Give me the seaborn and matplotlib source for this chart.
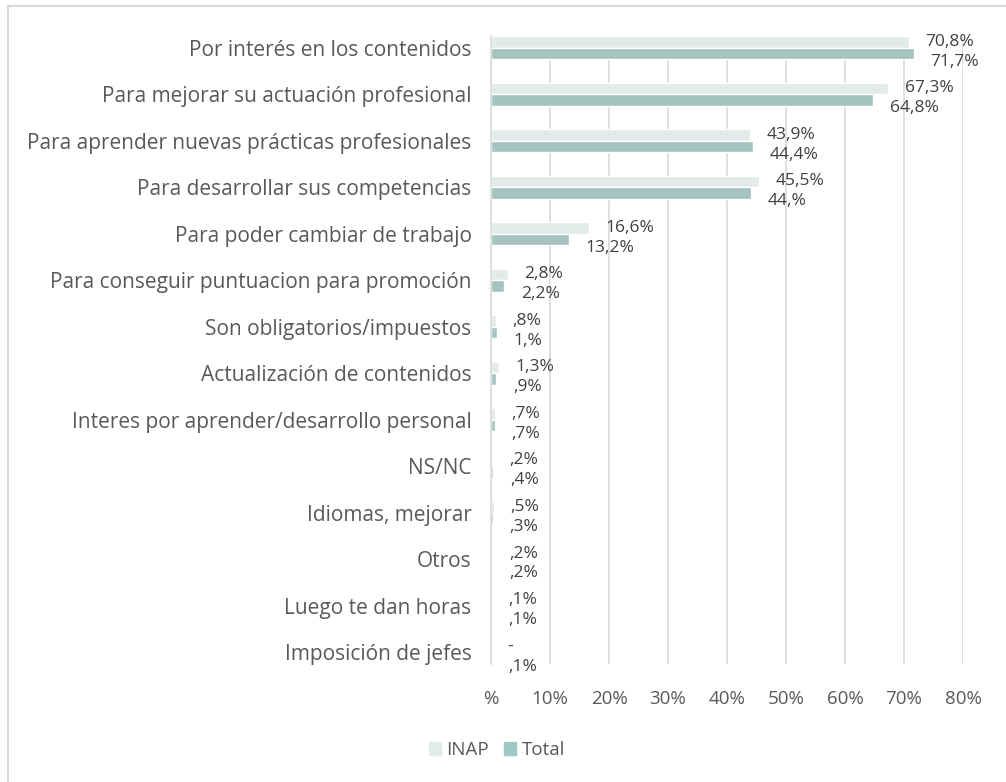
import pandas as pd
import matplotlib.pyplot as plt
import seaborn as sns
from matplotlib.patches import Rectangle

# Chart values (percent)
categories = [
    "Por interés en los contenidos",
    "Para mejorar su actuación profesional",
    "Para aprender nuevas prácticas profesionales",
    "Para desarrollar sus competencias",
    "Para poder cambiar de trabajo",
    "Para conseguir puntuacion para promoción",
    "Son obligatorios/impuestos",
    "Actualización de contenidos",
    "Interes por aprender/desarrollo personal",
    "NS/NC",
    "Idiomas, mejorar",
    "Otros",
    "Luego te dan horas",
    "Imposición de jefes",
]
inap = [70.8, 67.3, 43.9, 45.5, 16.6, 2.8, 0.8, 1.3, 0.7, 0.2, 0.5, 0.2, 0.1, 0.0]
total = [71.7, 64.8, 44.4, 44.0, 13.2, 2.2, 1.0, 0.9, 0.7, 0.4, 0.3, 0.2, 0.1, 0.1]
series = ["INAP", "Total"]
xticks = [0, 10, 20, 30, 40, 50, 60, 70, 80]

colors = {"INAP": "#E0ECEA", "Total": "#A0C8C3"}
text_color = "#595959"
label_color = "#404040"
bar_w = 0.5


def excel_pct(v, dash_zero=False):
    # mimics the excel format of the source: 44.0 -> "44,%", 0.8 -> ",8%"
    if v == 0:
        return "-" if dash_zero else "%"
    s = f"{v:.1f}".replace(".", ",")
    if s.startswith("0"):
        s = s[1:]
    if s.endswith(",0"):
        s = s[:-1]
    return s + "%"


def tick_pct(v):
    return "%" if v == 0 else f"{v:.0f}%"


df = pd.DataFrame({
    "Motivo": categories * 2,
    "Serie": ["INAP"] * len(categories) + ["Total"] * len(categories),
    "Valor": inap + total,
})

sns.set_style("white")
plt.rcParams['font.family'] = ['Open Sans', 'DejaVu Sans']

fig = plt.figure(figsize=(10.06, 7.82), dpi=100)
ax = fig.add_axes([491 / 1006, 1 - 664 / 782, (963 - 491) / 1006, (664 - 36) / 782])

sns.barplot(data=df, y="Motivo", x="Valor", hue="Serie", orient="h",
            palette=colors, width=bar_w, ax=ax, legend=False, zorder=3)

# bars run right from the top to the bottom of the plot area, as in excel
ax.set_ylim(len(categories) - 1 + bar_w / 2, -bar_w / 2)
ax.set_xlim(0, 80)
ax.set_xticks(xticks)
ax.set_xticklabels([tick_pct(t) for t in xticks], fontsize=13.5, color=text_color)
ax.tick_params(axis="y", labelsize=15, labelcolor=text_color, length=0, pad=14)
ax.tick_params(axis="x", length=0, pad=19)
ax.set_xlabel("")
ax.set_ylabel("")
ax.grid(axis="x", color="#D9D9D9", linewidth=1.2, zorder=0)
for side in ["top", "right", "bottom"]:
    ax.spines[side].set_visible(False)
ax.spines["left"].set_color("#D9D9D9")
ax.spines["left"].set_linewidth(1.2)
ax.spines["left"].set_zorder(4)

# data labels
for cont, vals, name in zip(ax.containers, [inap, total], series):
    for bar, v in zip(cont, vals):
        y = bar.get_y() + bar.get_height() / 2
        dy = 0 if name == "INAP" else -6
        ax.annotate(excel_pct(v, dash_zero=True), (bar.get_width(), y),
                    xytext=(12, dy), textcoords="offset points", annotation_clip=False,
                    ha="left", va="center", fontsize=12.5, color=label_color)

# legend at bottom
handles = [Rectangle((0, 0), 1, 1, color=colors[s]) for s in series]
fig.legend(handles, series, loc="center", bbox_to_anchor=(497 / 1006, 1 - 750 / 782),
           ncol=2, frameon=False, fontsize=13.5, labelcolor=text_color,
           handlelength=0.65, handleheight=0.65, handletextpad=0.3, columnspacing=0.8)

# chart frame (left/top edges visible as in the source)
fig.patches.append(Rectangle((8 / 1006, -0.1), 1.2, 1 - 6 / 782 + 0.1, transform=fig.transFigure,
                             fill=False, edgecolor="#D9D9D9", linewidth=1.5))

fig.savefig("out.png", dpi=100)
